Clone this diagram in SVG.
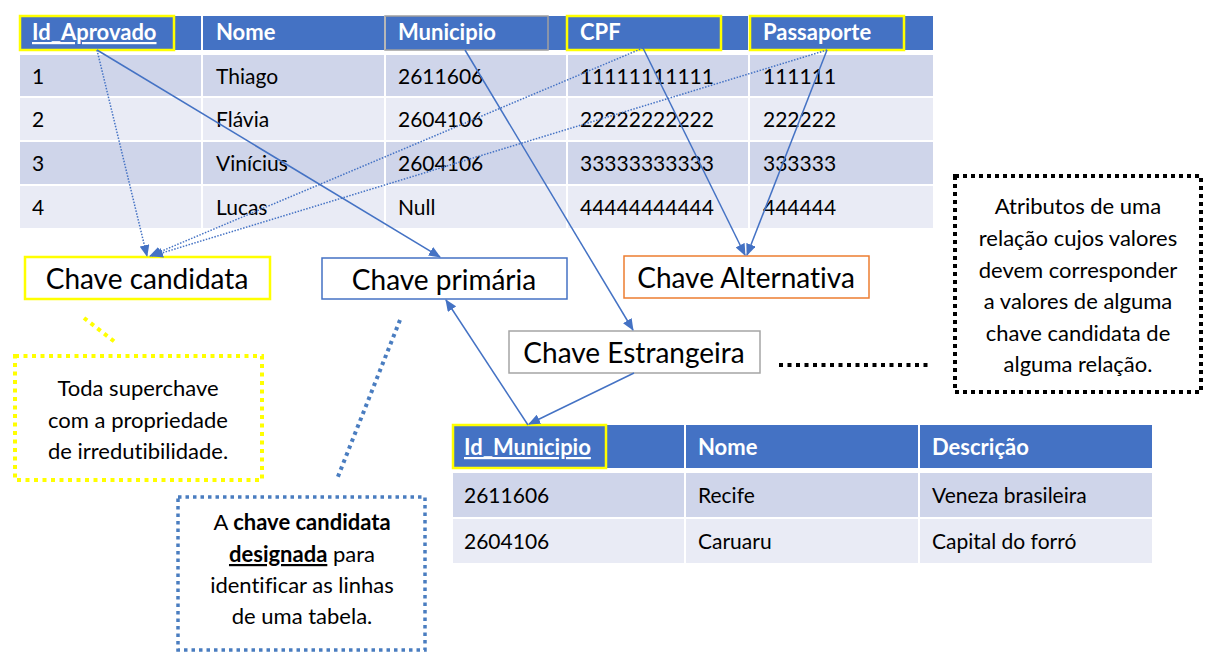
<svg xmlns="http://www.w3.org/2000/svg" width="1224" height="668" viewBox="0 0 1224 668">
<style>
  text { font-family: Lato, "Noto Sans", sans-serif; fill: #000; font-variant-ligatures: none; }
  .hdr { fill: #4472C4; }
  .r1 { fill: #CFD5EA; }
  .r2 { fill: #E9EBF5; }
  .ht { fill: #fff; font-weight: bold; font-size: 22px; }
  .dt { font-size: 21px; }
  .lbl { font-size: 28px; text-anchor: middle; }
  .desc { font-size: 22px; text-anchor: middle; }
  .ybox { fill: none; stroke: #FFFF00; stroke-width: 2.5; }
  .conn { fill: none; stroke: #4472C4; stroke-width: 1.5; }
  .dotc { fill: none; stroke: #4472C4; stroke-width: 1.5; stroke-dasharray: 1.5 1.5; }
</style>
<defs>
  <marker id="ah" markerWidth="12" markerHeight="10" refX="11" refY="5" orient="auto" markerUnits="userSpaceOnUse">
    <path d="M0,0 L12,5 L0,10 Z" fill="#4472C4"/>
  </marker>
</defs>
<rect width="1224" height="668" fill="#fff"/>

<g id="tabela-aprovado">
  <rect class="hdr" x="20" y="16" width="181" height="34"/>
  <rect class="hdr" x="203" y="16" width="181" height="34"/>
  <rect class="hdr" x="386" y="16" width="180" height="34"/>
  <rect class="hdr" x="568" y="16" width="180" height="34"/>
  <rect class="hdr" x="750" y="16" width="183" height="34"/>
  <rect class="ybox" x="20" y="16" width="154" height="34"/>
  <rect x="385" y="16" width="163" height="34" fill="none" stroke="#A0A0A0" stroke-width="1.5"/>
  <rect class="ybox" x="567" y="16" width="154" height="34"/>
  <rect class="ybox" x="750" y="16" width="154" height="34"/>
  <text class="ht" x="32" y="40" text-decoration="underline">Id_Aprovado</text>
  <text class="ht" x="216" y="40">Nome</text>
  <text class="ht" x="398" y="40">Municipio</text>
  <text class="ht" x="580" y="40">CPF</text>
  <text class="ht" x="763" y="40">Passaporte</text>

  <g>
    <rect class="r1" x="20" y="55" width="181" height="41"/><rect class="r1" x="203" y="55" width="181" height="41"/><rect class="r1" x="386" y="55" width="180" height="41"/><rect class="r1" x="568" y="55" width="180" height="41"/><rect class="r1" x="750" y="55" width="183" height="41"/>
    <rect class="r2" x="20" y="98" width="181" height="42"/><rect class="r2" x="203" y="98" width="181" height="42"/><rect class="r2" x="386" y="98" width="180" height="42"/><rect class="r2" x="568" y="98" width="180" height="42"/><rect class="r2" x="750" y="98" width="183" height="42"/>
    <rect class="r1" x="20" y="142" width="181" height="42"/><rect class="r1" x="203" y="142" width="181" height="42"/><rect class="r1" x="386" y="142" width="180" height="42"/><rect class="r1" x="568" y="142" width="180" height="42"/><rect class="r1" x="750" y="142" width="183" height="42"/>
    <rect class="r2" x="20" y="186" width="181" height="42"/><rect class="r2" x="203" y="186" width="181" height="42"/><rect class="r2" x="386" y="186" width="180" height="42"/><rect class="r2" x="568" y="186" width="180" height="42"/><rect class="r2" x="750" y="186" width="183" height="42"/>
  </g>
  <text class="dt" x="32" y="84">1</text><text class="dt" x="216" y="84">Thiago</text><text class="dt" x="398" y="84">2611606</text><text class="dt" x="580" y="84">11111111111</text><text class="dt" x="763" y="84">111111</text>
  <text class="dt" x="32" y="127">2</text><text class="dt" x="216" y="127">Flávia</text><text class="dt" x="398" y="127">2604106</text><text class="dt" x="580" y="127">22222222222</text><text class="dt" x="763" y="127">222222</text>
  <text class="dt" x="32" y="171">3</text><text class="dt" x="216" y="171">Vinícius</text><text class="dt" x="398" y="171">2604106</text><text class="dt" x="580" y="171">33333333333</text><text class="dt" x="763" y="171">333333</text>
  <text class="dt" x="32" y="215">4</text><text class="dt" x="216" y="215">Lucas</text><text class="dt" x="398" y="215">Null</text><text class="dt" x="580" y="215">44444444444</text><text class="dt" x="763" y="215">444444</text>
</g>

<g id="tabela-municipio">
  <rect class="hdr" x="453" y="425" width="231" height="43"/>
  <rect class="hdr" x="686" y="425" width="232" height="43"/>
  <rect class="hdr" x="920" y="425" width="232" height="43"/>
  <rect class="ybox" x="453" y="425" width="153" height="43"/>
  <text class="ht" x="464" y="455" text-decoration="underline">Id_Municipio</text>
  <text class="ht" x="698" y="455">Nome</text>
  <text class="ht" x="932" y="455">Descrição</text>
  <rect class="r1" x="453" y="473" width="231" height="44"/><rect class="r1" x="686" y="473" width="232" height="44"/><rect class="r1" x="920" y="473" width="232" height="44"/>
  <rect class="r2" x="453" y="519" width="231" height="44"/><rect class="r2" x="686" y="519" width="232" height="44"/><rect class="r2" x="920" y="519" width="232" height="44"/>
  <text class="dt" x="464" y="503">2611606</text><text class="dt" x="698" y="503">Recife</text><text class="dt" x="932" y="503">Veneza brasileira</text>
  <text class="dt" x="464" y="549">2604106</text><text class="dt" x="698" y="549">Caruaru</text><text class="dt" x="932" y="549">Capital do forró</text>
</g>

<g id="chave-candidata">
  <rect x="25" y="257" width="245" height="42" fill="#fff" stroke="#FFFF00" stroke-width="2.5"/>
  <text class="lbl" x="147" y="289">Chave candidata</text>
</g>
<g id="chave-primaria">
  <rect x="322" y="258" width="245" height="41" fill="#fff" stroke="#4472C4" stroke-width="1.5"/>
  <text class="lbl" x="444" y="290">Chave primária</text>
</g>
<g id="chave-alternativa">
  <rect x="624" y="256" width="245" height="42" fill="#fff" stroke="#ED7D31" stroke-width="1.5"/>
  <text class="lbl" x="746" y="288">Chave Alternativa</text>
</g>
<g id="chave-estrangeira">
  <rect x="509" y="331" width="251" height="42" fill="#fff" stroke="#A5A5A5" stroke-width="1.5"/>
  <text class="lbl" x="634" y="363">Chave Estrangeira</text>
</g>

<g id="nota-candidata">
  <rect x="15" y="356" width="247" height="124" fill="none" stroke="#FFFF00" stroke-width="4" stroke-dasharray="4 4.5"/>
  <text class="desc" x="138" y="396">Toda superchave</text>
  <text class="desc" x="138" y="428">com a propriedade</text>
  <text class="desc" x="138" y="459">de irredutibilidade.</text>
</g>
<g id="nota-primaria">
  <rect x="178" y="497" width="247" height="153" fill="none" stroke="#4A7DC0" stroke-width="3.5" stroke-dasharray="3.5 4"/>
  <text class="desc" x="302" y="530">A <tspan font-weight="bold">chave candidata</tspan></text>
  <text class="desc" x="302" y="562"><tspan font-weight="bold" text-decoration="underline">designada</tspan> para</text>
  <text class="desc" x="302" y="593">identificar as linhas</text>
  <text class="desc" x="302" y="624">de uma tabela.</text>
</g>
<g id="nota-estrangeira">
  <rect x="955" y="176" width="246" height="216" fill="none" stroke="#000" stroke-width="4" stroke-dasharray="4 4"/>
  <text class="desc" x="1078" y="214">Atributos de uma</text>
  <text class="desc" x="1078" y="246">relação cujos valores</text>
  <text class="desc" x="1078" y="278">devem corresponder</text>
  <text class="desc" x="1078" y="309">a valores de alguma</text>
  <text class="desc" x="1078" y="341">chave candidata de</text>
  <text class="desc" x="1078" y="372">alguma relação.</text>
</g>

<g id="conectores">
  <line class="dotc" x1="97" y1="50" x2="147" y2="256" marker-end="url(#ah)"/>
  <line class="dotc" x1="643" y1="48" x2="150" y2="256" marker-end="url(#ah)"/>
  <line class="dotc" x1="827" y1="50" x2="152" y2="256" marker-end="url(#ah)"/>
  <line class="conn" x1="97" y1="50" x2="440" y2="257" marker-end="url(#ah)"/>
  <line class="conn" x1="465" y1="50" x2="633" y2="330" marker-end="url(#ah)"/>
  <line class="conn" x1="643" y1="48" x2="745" y2="255" marker-end="url(#ah)"/>
  <line class="conn" x1="827" y1="50" x2="747" y2="255" marker-end="url(#ah)"/>
  <line class="conn" x1="528" y1="425" x2="446" y2="300" marker-end="url(#ah)"/>
  <line class="conn" x1="634" y1="373" x2="529" y2="424" marker-end="url(#ah)"/>
  <line x1="84" y1="318" x2="115" y2="342" stroke="#FFFF00" stroke-width="4" stroke-dasharray="4 4.5"/>
  <line x1="400" y1="320" x2="337" y2="479" stroke="#4A7DC0" stroke-width="4" stroke-dasharray="3.5 4"/>
  <line x1="779" y1="365" x2="931" y2="365" stroke="#000" stroke-width="4" stroke-dasharray="4 4.5"/>
</g>
</svg>
